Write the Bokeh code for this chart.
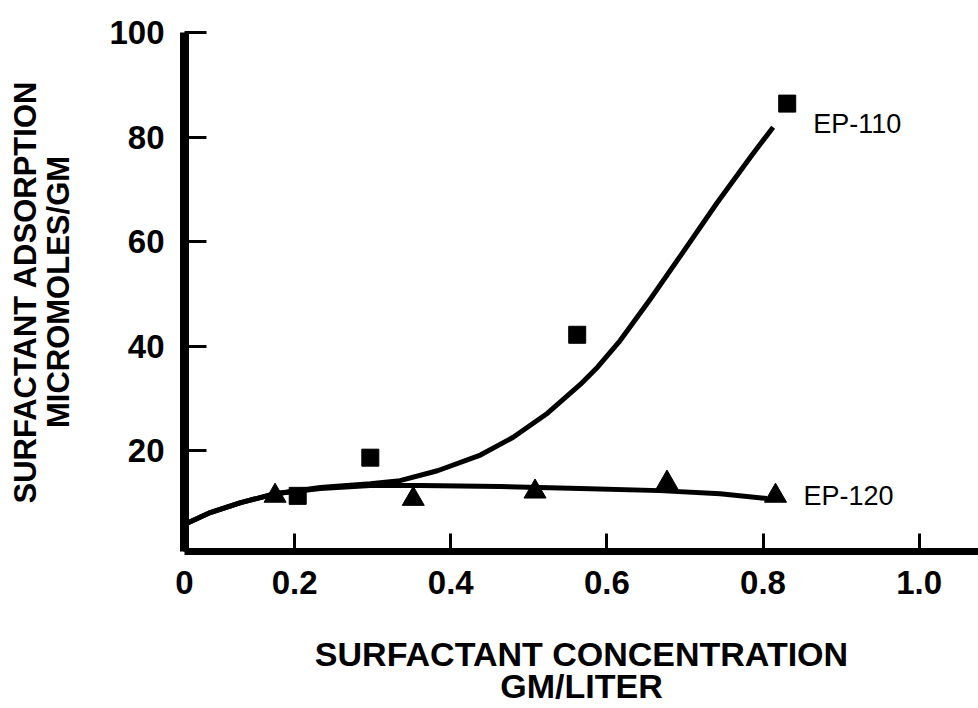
from bokeh.plotting import figure
from bokeh.models import Range1d, FixedTicker
from bokeh.embed import file_html
from bokeh.resources import INLINE
from bokeh.core.properties import value

# ---- axis ranges / ticks ----
x_start = 0.059
x_end = 1.076
y_start = 0.76
y_end = 100

x_ticks = [0.059, 0.2, 0.4, 0.6, 0.8, 1.0]
x_tick_labels = ["0", "0.2", "0.4", "0.6", "0.8", "1.0"]
y_ticks = [20, 40, 60, 80, 100]
y_tick_labels = ["20", "40", "60", "80", "100"]

# ---- measured points ----
ep110_x = [0.204, 0.297, 0.562, 0.831]
ep110_y = [11.4, 18.7, 42.2, 86.4]

ep120_x = [0.175, 0.352, 0.508, 0.677, 0.816]
ep120_y = [11.4, 10.8, 12.2, 13.9, 11.4]

# ---- fitted curves ----
ep110_curve_x = [0.0615, 0.092, 0.131, 0.175, 0.233, 0.297, 0.335, 0.383, 0.438,
                 0.480, 0.524, 0.566, 0.588, 0.617, 0.656, 0.698, 0.741, 0.784, 0.813]
ep110_curve_y = [6.1, 8.2, 10.1, 11.8, 13.0, 13.7, 14.3, 16.2, 19.2,
                 22.6, 27.2, 32.7, 36.0, 41.1, 49.1, 58.1, 67.4, 76.2, 81.9]

ep120_curve_x = [0.0615, 0.092, 0.131, 0.175, 0.233, 0.297, 0.361, 0.463,
                 0.566, 0.668, 0.745, 0.805]
ep120_curve_y = [6.1, 8.2, 10.1, 11.8, 12.8, 13.4, 13.4, 13.2,
                 12.8, 12.4, 11.8, 10.9]

series_names = ["EP-110", "EP-120"]

FONT = "Liberation Sans"

p = figure(width=978, height=708, output_backend="svg", toolbar_location=None,
           x_range=Range1d(x_start, x_end), y_range=Range1d(y_start, y_end),
           min_border_left=184, min_border_right=0, min_border_top=32,
           min_border_bottom=155)
p.outline_line_color = None
p.xgrid.visible = False
p.ygrid.visible = False
p.background_fill_color = "white"
p.border_fill_color = "white"

# x axis
xa = p.xaxis[0]
xa.ticker = FixedTicker(ticks=x_ticks)
xa.major_label_overrides = {t: l for t, l in zip(x_ticks, x_tick_labels)}
xa.axis_line_width = 7
xa.axis_line_color = "black"
xa.major_tick_in = 18
xa.major_tick_out = 0
xa.major_tick_line_width = 3
xa.minor_tick_line_color = None
xa.major_label_standoff = 19
xa.major_label_text_font = FONT
xa.major_label_text_font_size = "33px"
xa.major_label_text_font_style = "bold"
xa.major_label_text_color = "black"
xa.axis_label = "SURFACTANT CONCENTRATION\nGM/LITER"
xa.axis_label_text_font = FONT
xa.axis_label_text_font_size = "34px"
xa.axis_label_text_font_style = "bold"
xa.axis_label_text_color = "black"
xa.axis_label_text_line_height = 0.86
xa.axis_label_standoff = 38

# y axis
ya = p.yaxis[0]
ya.ticker = FixedTicker(ticks=y_ticks)
ya.major_label_overrides = {t: l for t, l in zip(y_ticks, y_tick_labels)}
ya.axis_line_width = 9
ya.axis_line_color = "black"
ya.major_tick_in = 22
ya.major_tick_out = 0
ya.major_tick_line_width = 3
ya.minor_tick_line_color = None
ya.major_label_standoff = 20
ya.major_label_text_font = FONT
ya.major_label_text_font_size = "33px"
ya.major_label_text_font_style = "bold"
ya.major_label_text_color = "black"
ya.major_label_orientation = "horizontal"
ya.axis_label = "SURFACTANT ADSORPTION\nMICROMOLES/GM"
ya.axis_label_text_font = FONT
ya.axis_label_text_font_size = "31px"
ya.axis_label_text_font_style = "bold"
ya.axis_label_text_color = "black"
ya.axis_label_text_line_height = 0.95
ya.axis_label_standoff = 30

# curves
p.line(ep110_curve_x, ep110_curve_y, line_width=5, line_color="black", line_join="round")
p.line(ep120_curve_x, ep120_curve_y, line_width=5, line_color="black", line_join="round")

# markers
p.scatter(ep110_x, ep110_y, marker="square", size=17, fill_color="black", line_color="black")
p.scatter(ep120_x, ep120_y, marker="triangle", size=22, fill_color="black", line_color="black")

# series labels next to last points
p.text(x=[ep110_x[-1]], y=[ep110_y[-1]], text=[series_names[0]], x_offset=26, y_offset=20,
       text_align="left", text_baseline="middle", text_font=value(FONT),
       text_font_size="27px", text_color="black")
p.text(x=[ep120_x[-1]], y=[ep120_y[-1]], text=[series_names[1]], x_offset=28, y_offset=0,
       text_align="left", text_baseline="middle", text_font=value(FONT),
       text_font_size="27px", text_color="black")

open("out.html", "w").write(file_html(p, INLINE))
